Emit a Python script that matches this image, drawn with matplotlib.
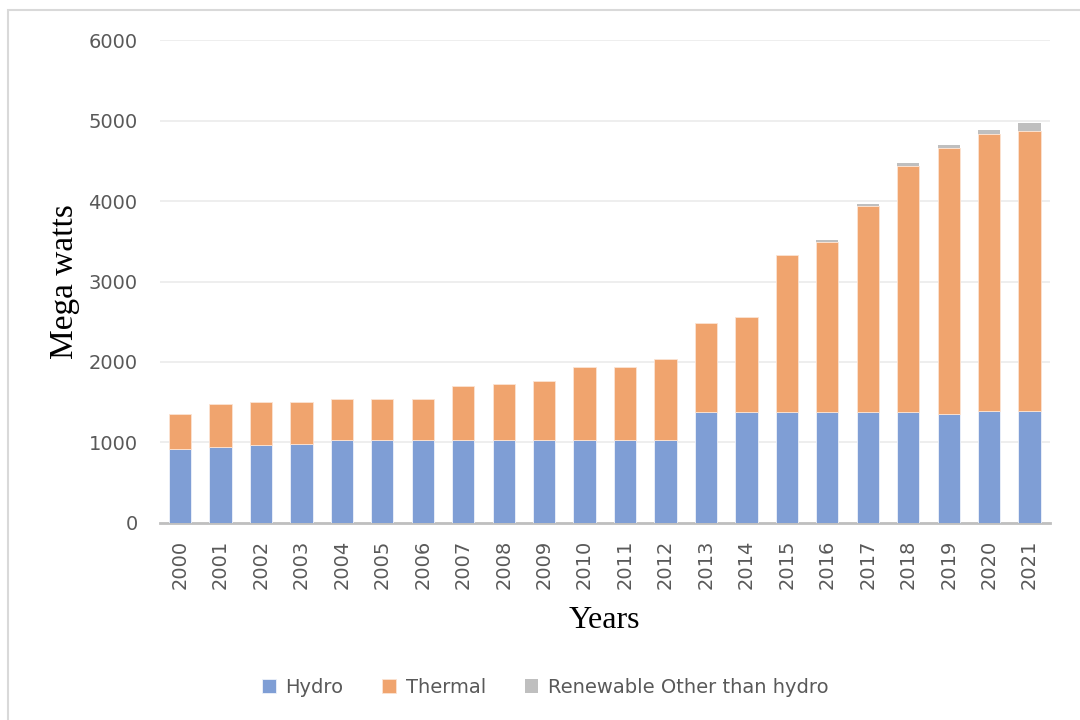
import numpy as np
import matplotlib.pyplot as plt
from matplotlib.patches import Rectangle

years = [str(y) for y in range(2000, 2022)]
hydro = [922, 943, 963, 975, 1034, 1034, 1034, 1034, 1034, 1034, 1034,
         1034, 1034, 1372, 1372, 1372, 1372, 1372, 1372, 1356, 1393, 1393]
thermal = [430, 529, 538, 530, 500, 500, 500, 669, 694, 723, 897,
           905, 1004, 1107, 1186, 1955, 2122, 2569, 3065, 3304, 3441, 3478]
renewable = [0, 0, 0, 0, 0, 0, 0, 0, 0, 0, 0,
             0, 0, 2, 2, 3, 25, 21, 33, 34, 46, 99]

c_hydro = '#7F9ED5'
c_thermal = '#F0A46E'
c_renew = '#BFBFBF'
txt = '#595959'

fig = plt.figure(figsize=(10.8, 7.2), dpi=100)
ax = fig.add_axes([0.148, 0.274, 0.824, 0.67])

# light frame around the chart
fig.patches.append(Rectangle((0.0075, -0.05), 1.1, 1.036, transform=fig.transFigure,
                             fill=False, edgecolor='#D9D9D9', linewidth=1.5))

x = np.arange(len(years))
w = 0.55
hydro = np.array(hydro)
thermal = np.array(thermal)
renewable = np.array(renewable)

ax.bar(x, hydro, w, color=c_hydro, edgecolor='#EEF2FA', linewidth=0.6, label='Hydro', zorder=3)
ax.bar(x, thermal, w, bottom=hydro, color=c_thermal, edgecolor='#FBE3D3', linewidth=0.6,
       label='Thermal', zorder=3)
ax.bar(x, renewable, w, bottom=hydro + thermal, color=c_renew, linewidth=0,
       label='Renewable Other than hydro', zorder=3)

ax.set_xlim(-0.5, len(years) - 0.5)
ax.set_ylim(0, 6000)
ax.set_yticks(range(0, 6001, 1000))
ax.set_xticks(x)
ax.set_xticklabels(years, rotation=90)
ax.yaxis.grid(True, color='#EBEBEB', linewidth=1.2, zorder=0)
ax.set_axisbelow(True)

for s in ['top', 'right', 'left']:
    ax.spines[s].set_visible(False)
ax.spines['bottom'].set_color('#BFBFBF')
ax.spines['bottom'].set_linewidth(2)
ax.tick_params(axis='both', length=0, labelsize=14, labelcolor=txt)
ax.tick_params(axis='y', pad=16)
ax.tick_params(axis='x', pad=12)

ax.set_ylabel('Mega watts', fontfamily='Liberation Serif', fontsize=24, color='black', labelpad=6)
ax.set_xlabel('Years', fontfamily='Liberation Serif', fontsize=23, color='black', labelpad=12)

leg = fig.legend(loc='center', bbox_to_anchor=(0.505, 0.045), ncol=3, frameon=False,
                 fontsize=14, handlelength=0.7, handleheight=0.7, columnspacing=2.0,
                 handletextpad=0.5)
for t in leg.get_texts():
    t.set_color(txt)

fig.savefig('out.png', dpi=100)
